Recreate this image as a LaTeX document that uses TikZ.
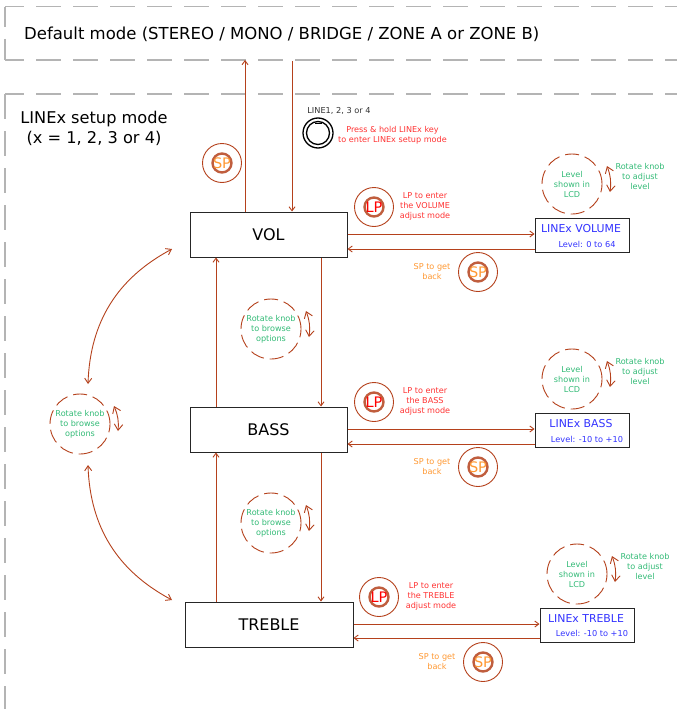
\documentclass[tikz,border=0pt]{standalone}
\usepackage{fontspec}
\setmainfont{DejaVu Sans}
\usetikzlibrary{arrows.meta,calc}
\definecolor{brn}{HTML}{B5411C}
\definecolor{redt}{HTML}{FF3333}
\definecolor{grn}{HTML}{33BB77}
\definecolor{org}{HTML}{FF9933}
\definecolor{blu}{HTML}{3333FF}
\definecolor{gry}{HTML}{B4B4B4}
\tikzset{
 fr/.style={draw=gry,line width=1.2pt,dash pattern=on 25pt off 12pt},
 mainbox/.style={draw=black!85,line width=1pt,fill=white,font=\fontsize{16}{18}\selectfont,inner sep=0pt},
 lcdbox/.style={draw=black!85,line width=1pt,fill=white,minimum width=94pt,minimum height=34pt,inner sep=0pt},
 conn/.style={draw=brn,line width=0.9pt,-{Straight Barb[length=4pt,width=6pt]}},
 dbl/.style={draw=brn,line width=0.9pt,{Straight Barb[length=6pt,width=8.5pt]}-{Straight Barb[length=6pt,width=8.5pt]}},
 dcirc/.style={circle,draw=brn,line width=0.9pt,dash pattern=on 14pt off 6pt,minimum size=60pt,inner sep=0pt,align=center,text=grn,font=\fontsize{8.1}{10}\selectfont},
 keyc/.style={circle,draw=brn,line width=0.9pt,minimum size=39pt,inner sep=0pt,font=\fontsize{14.5}{16}\selectfont,
   path picture={\draw[brn!85,line width=2.4pt] (path picture bounding box.center) circle (9.5pt);}},
 sp/.style={keyc,text=org},
 lp/.style={keyc,text=red},
 gt/.style={align=center,text=grn,font=\fontsize{8.1}{10}\selectfont,inner sep=0pt},
 rt/.style={align=center,text=redt,font=\fontsize{8.1}{10}\selectfont,inner sep=0pt},
 ot/.style={align=center,text=org,font=\fontsize{8.1}{10}\selectfont,inner sep=0pt},
 lcdt/.style={align=center,text=blu,inner sep=0pt},
}
\begin{document}
\begin{tikzpicture}[x=1pt,y=-1pt]
\useasboundingbox (0,0) rectangle (677,709);
\fill[white] (0,0) rectangle (677,709);
% frames
\draw[fr,dash phase=6pt] (5,6.5) -- (677,6.5);
\draw[fr,dash phase=6pt] (5,60) -- (677,60);
\draw[fr,dash phase=5pt] (5,7) -- (5,60);
\draw[fr,dash phase=6pt] (5,94) -- (677,94);
\draw[fr] (5,94) -- (5,709);
\node[anchor=west,inner sep=0pt,font=\fontsize{16.5}{20}\selectfont] (deft) at (24,34) {Default mode (STEREO / MONO / BRIDGE / ZONE A or ZONE B)};
\node[align=center,inner sep=0pt,font=\fontsize{16.2}{20}\selectfont] (sett) at (94,128.5) {LINEx setup mode\\(x = 1, 2, 3 or 4)};
% main boxes
\node[mainbox,minimum width=157pt,minimum height=45pt] (vol) at (268.5,234.5) {VOL};
\node[mainbox,minimum width=157pt,minimum height=45pt] (bass) at (268.5,429.5) {BASS};
\node[mainbox,minimum width=168pt,minimum height=45pt] (treble) at (269,624.5) {TREBLE};
% LCD boxes
\node[lcdbox] (lv) at (582,235) {};
\node[lcdt,font=\fontsize{10.9}{12}\selectfont] (lvt) at (581,229) {LINEx VOLUME};
\node[lcdt,font=\fontsize{8.2}{9}\selectfont] (lvl) at (587,244) {Level: 0 to 64};
\node[lcdbox] (lb) at (582,430) {};
\node[lcdt,font=\fontsize{10.9}{12}\selectfont] (lbt) at (581,424) {LINEx BASS};
\node[lcdt,font=\fontsize{8.2}{9}\selectfont] (lbl) at (587,439) {Level: -10 to +10};
\node[lcdbox] (lt) at (587,625) {};
\node[lcdt,font=\fontsize{10.9}{12}\selectfont] (ltt) at (586,619) {LINEx TREBLE};
\node[lcdt,font=\fontsize{8.2}{9}\selectfont] (ltl) at (592,633) {Level: -10 to +10};
% connector ends
\coordinate (upend) at (245,60);
\coordinate (dnstart) at (292,61);
\coordinate (xl) at (216,0);
\coordinate (xr) at (321,0);
% vertical connectors
\draw[conn] (vol.north -| upend) -- (upend);
\draw[conn] (dnstart) -- (vol.north -| dnstart);
\draw[conn] (bass.north -| xl) -- (vol.south -| xl);
\draw[conn] (vol.south -| xr) -- (bass.north -| xr);
\draw[conn] (treble.north -| xl) -- (bass.south -| xl);
\draw[conn] (bass.south -| xr) -- (treble.north -| xr);
% horizontal connectors
\draw[conn] ($(vol.east)+(0,-0.5)$) -- ($(lv.west)+(0,-1)$);
\draw[conn] ($(lv.west)+(0,14)$) -- ($(vol.east)+(0,14.5)$);
\draw[conn] ($(bass.east)+(0,-0.5)$) -- ($(lb.west)+(0,-1)$);
\draw[conn] ($(lb.west)+(0,14)$) -- ($(bass.east)+(0,14.5)$);
\draw[conn] ($(treble.east)+(0,-0.5)$) -- ($(lt.west)+(0,-1)$);
\draw[conn] ($(lt.west)+(0,13)$) -- ($(treble.east)+(0,13.5)$);
% key circles
\node[sp] (sp0) at (222,163) {SP};
\node[lp] (lp1) at (374,207) {LP};
\node[sp] (sp1) at (478,272) {SP};
\node[lp] (lp2) at (374,402) {LP};
\node[sp] (sp2) at (478,467) {SP};
\node[lp] (lp3) at (379,597) {LP};
\node[sp] (sp3) at (483,662) {SP};
% key labels
\node[rt] (lpt1) at (425,206) {LP to enter\\the VOLUME\\adjust mode};
\node[rt] (lpt2) at (425,401) {LP to enter\\the BASS\\adjust mode};
\node[rt] (lpt3) at (431,596) {LP to enter\\the TREBLE\\adjust mode};
\node[ot] (spt1) at (432,272) {SP to get\\back};
\node[ot] (spt2) at (432,467) {SP to get\\back};
\node[ot] (spt3) at (437,662) {SP to get\\back};
% knob
\node[circle,draw=black,line width=1.3pt,minimum size=30pt,inner sep=0pt,
  path picture={\draw[black,line width=1.3pt] (path picture bounding box.center) circle (11.5pt);
                \fill[black] ($(path picture bounding box.center)+(-3.5,-10.5)$) rectangle +(7,1.5);}] (knob) at (318,133) {};
\node[inner sep=0pt,text=black!80,font=\fontsize{8.2}{9}\selectfont] (knobt) at (339,111) {LINE1, 2, 3 or 4};
\node[rt] (presst) at (392.5,135) {Press \& hold LINEx key\\to enter LINEx setup mode};
% level circles
\node[dcirc] (c1) at (572,184) {Level\\shown in\\LCD};
\node[dcirc] (c2) at (572,379) {Level\\shown in\\LCD};
\node[dcirc] (c3) at (577,574) {Level\\shown in\\LCD};
\coordinate (a1s) at (607,166); \coordinate (a1e) at (610,192);
\coordinate (a2s) at (607,361); \coordinate (a2e) at (610,387);
\coordinate (a3s) at (612,556); \coordinate (a3e) at (615,582);
\draw[dbl] (a1s) to[bend left=14] (a1e);
\draw[dbl] (a2s) to[bend left=14] (a2e);
\draw[dbl] (a3s) to[bend left=14] (a3e);
\node[gt] (g1) at (640,176) {Rotate knob\\to adjust\\level};
\node[gt] (g2) at (640,371) {Rotate knob\\to adjust\\level};
\node[gt] (g3) at (645,566) {Rotate knob\\to adjust\\level};
% browse circles
\node[dcirc] (b1) at (271,329) {Rotate knob\\to browse\\options};
\node[dcirc] (b2) at (271,523) {Rotate knob\\to browse\\options};
\node[dcirc] (b3) at (80,424) {Rotate knob\\to browse\\options};
\coordinate (a4s) at (306,311); \coordinate (a4e) at (309,337);
\coordinate (a5s) at (306,505); \coordinate (a5e) at (309,531);
\coordinate (a6s) at (114,406); \coordinate (a6e) at (118,431);
\draw[dbl] (a4s) to[bend left=14] (a4e);
\draw[dbl] (a5s) to[bend left=14] (a5e);
\draw[dbl] (a6s) to[bend left=14] (a6e);
% big arcs
\coordinate (arcA) at (172,249);
\coordinate (arcB) at (88,384);
\coordinate (arcC) at (88,465);
\coordinate (arcD) at (172,600);
\draw[conn,{Straight Barb[length=5pt,width=7pt]}-{Straight Barb[length=5pt,width=7pt]}] (arcA) to[bend right=30] (arcB);
\draw[conn,{Straight Barb[length=5pt,width=7pt]}-{Straight Barb[length=5pt,width=7pt]}] (arcC) to[bend right=30] (arcD);
\end{tikzpicture}
\end{document}
